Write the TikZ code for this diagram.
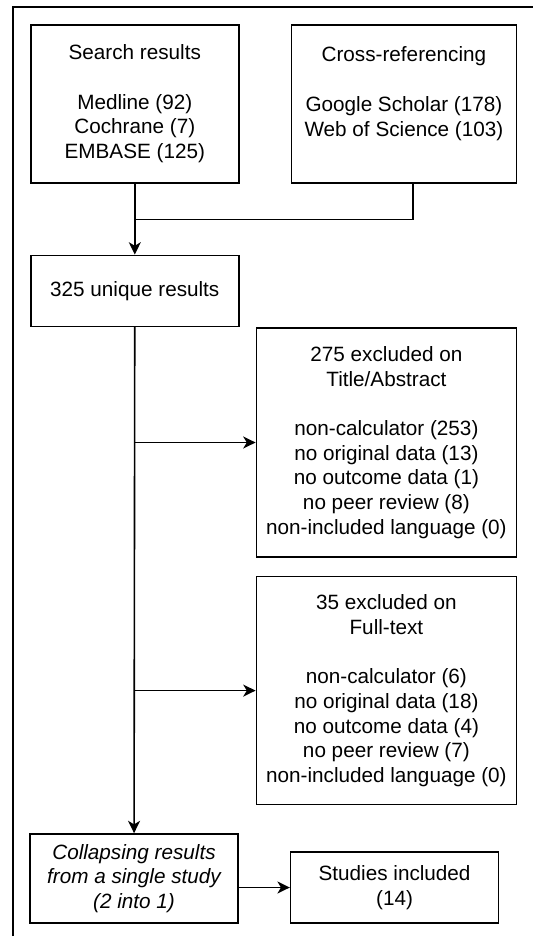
\documentclass[tikz,border=0pt]{standalone}
\usepackage{fontspec}
\setmainfont{Liberation Sans}
\usepackage{tikz}
\usetikzlibrary{arrows.meta, positioning, calc}

\begin{document}
\begin{tikzpicture}[x=0.5pt, y=-0.5pt, line width=0.8pt, >={Stealth[length=6.2pt, width=6pt, inset=1.8pt]},
    every node/.style={font=\fontsize{10.35}{12.35}\selectfont}]
    \tikzstyle{block} = [rectangle, draw, align=center, inner sep=0pt]
    \tikzstyle{line} = [draw, ->]

    \useasboundingbox (0,0) rectangle (533,937);
    % frame
    \draw (13,936) -- (13,7) -- (533,7);

    \node [block, anchor=north west, minimum width=104pt, minimum height=79pt] (search) at (30,24)
        {Search results\\ \mbox{}\\Medline (92)\\Cochrane (7)\\EMBASE (125)};
    \node [block, right=25.5pt of search, minimum width=112.5pt, minimum height=79pt] (crossref)
        {Cross-referencing\\ \mbox{}\\Google Scholar (178)\\Web of Science (103)\\ \mbox{}};
    \node [block, below=35.5pt of search, minimum width=104pt, minimum height=35.5pt] (unique)
        {325 unique results};
    \node [block, below right=0pt and 8pt of unique.south east, minimum width=130pt, minimum height=114.5pt] (titleabs)
        {275 excluded on\\Title/Abstract\\ \mbox{}\\non-calculator (253)\\no original data (13)\\no outcome data (1)\\no peer review (8)\\non-included language (0)};
    \node [block, below=9pt of titleabs, minimum width=130pt, minimum height=114pt] (fulltext)
        {35 excluded on\\Full-text\\ \mbox{}\\non-calculator (6)\\no original data (18)\\no outcome data (4)\\no peer review (7)\\non-included language (0)};
    \node [block, minimum width=104pt, minimum height=44.5pt, font=\fontsize{10.35}{12.35}\selectfont\itshape] (collapse) at (134,878.5)
        {Collapsing results\\from a single study\\(2 into 1)};
    \node [block, right=25.5pt of collapse.south east, anchor=south west, minimum width=104pt, minimum height=35.5pt] (included)
        {Studies included\\(14)};

    \coordinate (merge) at ([yshift=-18pt]search.south);
    \path [line] (search) -- (unique);
    \draw ([xshift=4.5pt]crossref.south) |- (merge);
    \path [line] (unique) -- (collapse);
    \path [line] (unique.south |- titleabs) -- (titleabs);
    \path [line] (unique.south |- fulltext) -- (fulltext);
    \path [line] (collapse.east |- included) -- (included);
\end{tikzpicture}
\end{document}
